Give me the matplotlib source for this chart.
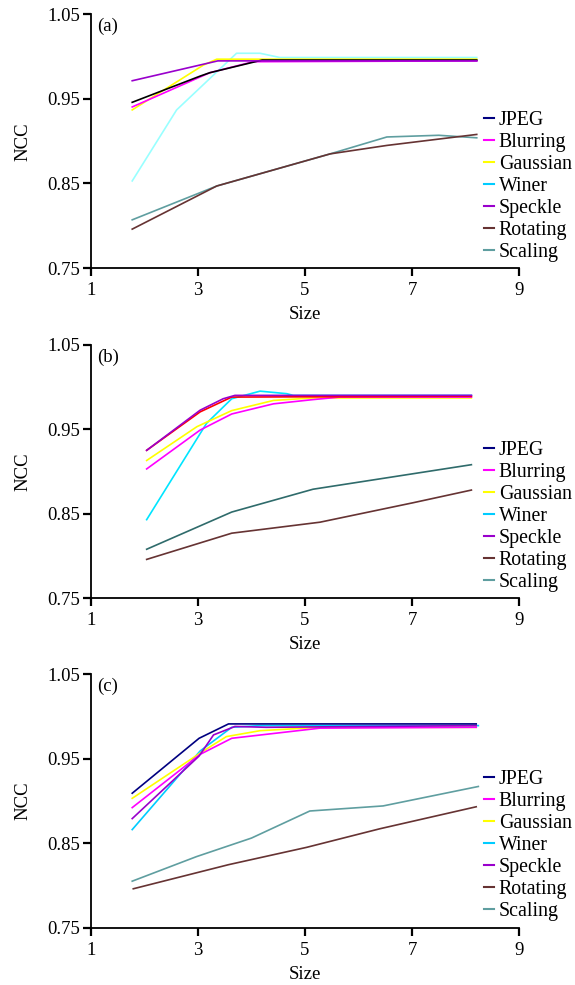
import matplotlib
matplotlib.use("Agg")
from matplotlib import pyplot as plt
from matplotlib.lines import Line2D

plt.rcParams['font.family'] = ['Liberation Serif', 'DejaVu Serif']

labels = ['JPEG', 'Blurring', 'Gaussian', 'Winer', 'Speckle', 'Rotating', 'Scaling']
legend_colors = ['#000080', '#ff00ff', '#ffff00', '#00ccff', '#9900cc', '#663333', '#5f9ea0']

# panel (a): (x, y) per series
a_jpeg = ([1.77, 3.04, 3.22, 4.2, 8.21], [0.946, 0.977, 0.981, 0.996, 0.996])
a_blurring = ([1.77, 3.22, 4.03, 8.21], [0.9405, 0.981, 0.994, 0.995])
a_gaussian = ([1.77, 3.1, 3.35, 8.21], [0.937, 0.990, 0.997, 0.997])
a_winer = ([1.77, 2.6, 3.72, 4.16, 4.53, 8.21], [0.853, 0.937, 1.004, 1.004, 0.999, 0.999])
a_speckle = ([1.77, 3.37, 8.21], [0.9715, 0.995, 0.995])
a_rotating = ([1.77, 3.35, 5.47, 6.53, 8.21], [0.796, 0.847, 0.885, 0.895, 0.908])
a_scaling = ([1.77, 3.35, 5.47, 6.53, 7.5, 8.21], [0.807, 0.847, 0.885, 0.905, 0.907, 0.904])

# panel (b)
b_jpeg = ([2.04, 3.04, 3.63, 8.11], [0.925, 0.9705, 0.988, 0.989])
b_blurring = ([2.04, 3.04, 3.63, 4.41, 5.15, 5.65, 8.11], [0.903, 0.949, 0.968, 0.980, 0.985, 0.988, 0.988])
b_gaussian = ([2.04, 2.98, 3.63, 4.41, 5.15, 8.11], [0.913, 0.953, 0.972, 0.984, 0.987, 0.987])
b_winer = ([2.04, 3.16, 3.63, 4.16, 4.66, 4.78, 8.11], [0.843, 0.957, 0.986, 0.995, 0.992, 0.990, 0.990])
b_speckle = ([2.04, 3.04, 3.47, 3.69, 8.11], [0.925, 0.9725, 0.986, 0.990, 0.990])
b_rotating = ([2.04, 3.63, 5.28, 7.02, 8.11], [0.796, 0.827, 0.840, 0.863, 0.878])
b_scaling = ([2.04, 3.63, 5.15, 8.11], [0.808, 0.852, 0.879, 0.908])

# panel (c)
c_jpeg = ([1.77, 3.02, 3.57, 8.20], [0.909, 0.974, 0.991, 0.991])
c_blurring = ([1.77, 3.04, 3.63, 5.28, 8.20], [0.892, 0.955, 0.974, 0.986, 0.987])
c_gaussian = ([1.77, 3.10, 3.53, 4.16, 5.28, 8.20], [0.903, 0.959, 0.976, 0.983, 0.987, 0.987])
c_winer = ([1.77, 3.04, 3.63, 4.16, 8.24], [0.866, 0.959, 0.987, 0.989, 0.989])
c_speckle = ([1.77, 3.02, 3.29, 3.69, 4.28, 8.20], [0.879, 0.953, 0.978, 0.988, 0.987, 0.989])
c_rotating = ([1.79, 3.57, 5.03, 6.40, 8.20], [0.796, 0.8245, 0.845, 0.867, 0.893])
c_scaling = ([1.77, 2.97, 4.0, 5.09, 6.46, 8.24], [0.805, 0.834, 0.856, 0.888, 0.894, 0.917])

panels = [
    ('(a)', [a_scaling, a_rotating, a_winer, a_gaussian, a_blurring, a_jpeg, a_speckle],
     ['#5f9ea0', '#663333', '#99ffff', '#ffff00', '#ff00ff', '#000000', '#9900cc']),
    ('(b)', [b_scaling, b_rotating, b_winer, b_gaussian, b_blurring, b_jpeg, b_speckle],
     ['#2f6b6b', '#663333', '#00e5ff', '#ffff00', '#ff00ff', '#ff0000', '#9900cc']),
    ('(c)', [c_scaling, c_rotating, c_winer, c_gaussian, c_blurring, c_speckle, c_jpeg],
     ['#5f9ea0', '#663333', '#00ccff', '#ffff00', '#ff00ff', '#9900cc', '#000080']),
]

fig = plt.figure(figsize=(5.75, 9.85), dpi=100)
bottoms = [0.7279, 0.3926, 0.0582]

for (tag, series, colors), bottom in zip(panels, bottoms):
    ax = fig.add_axes([0.1583, bottom, 0.7443, 0.2575])
    for (xs, ys), c in zip(series, colors):
        ax.plot(xs, ys, color=c, lw=1.2)
    ax.set_xlim(1, 9)
    ax.set_ylim(0.75, 1.05)
    ax.set_xticks([1, 3, 5, 7, 9])
    ax.set_yticks([0.75, 0.85, 0.95, 1.05])
    ax.set_yticklabels(['0.75', '0.85', '0.95', '1.05'])
    ax.spines['top'].set_visible(False)
    ax.spines['right'].set_visible(False)
    for s in ('left', 'bottom'):
        ax.spines[s].set_linewidth(1.3)
    ax.tick_params(direction='out', length=6, width=1.6, labelsize=13.5, pad=2)
    ax.tick_params(axis='x', pad=4)
    ax.set_xlabel('Size', fontsize=13.5, labelpad=5)
    ax.set_ylabel('NCC', fontsize=13.5, labelpad=11)
    ax.text(0.015, 0.985, tag, transform=ax.transAxes, fontsize=13.5, va='top', ha='left')
    handles = [Line2D([], [], color=c, lw=1.5) for c in legend_colors]
    ax.legend(handles, labels, loc='upper left', bbox_to_anchor=(0.918, 0.62),
              frameon=False, fontsize=14.3, handlelength=0.5, handletextpad=0.25,
              labelspacing=0.15, borderaxespad=0, borderpad=0)

fig.savefig('out.png', dpi=100)
